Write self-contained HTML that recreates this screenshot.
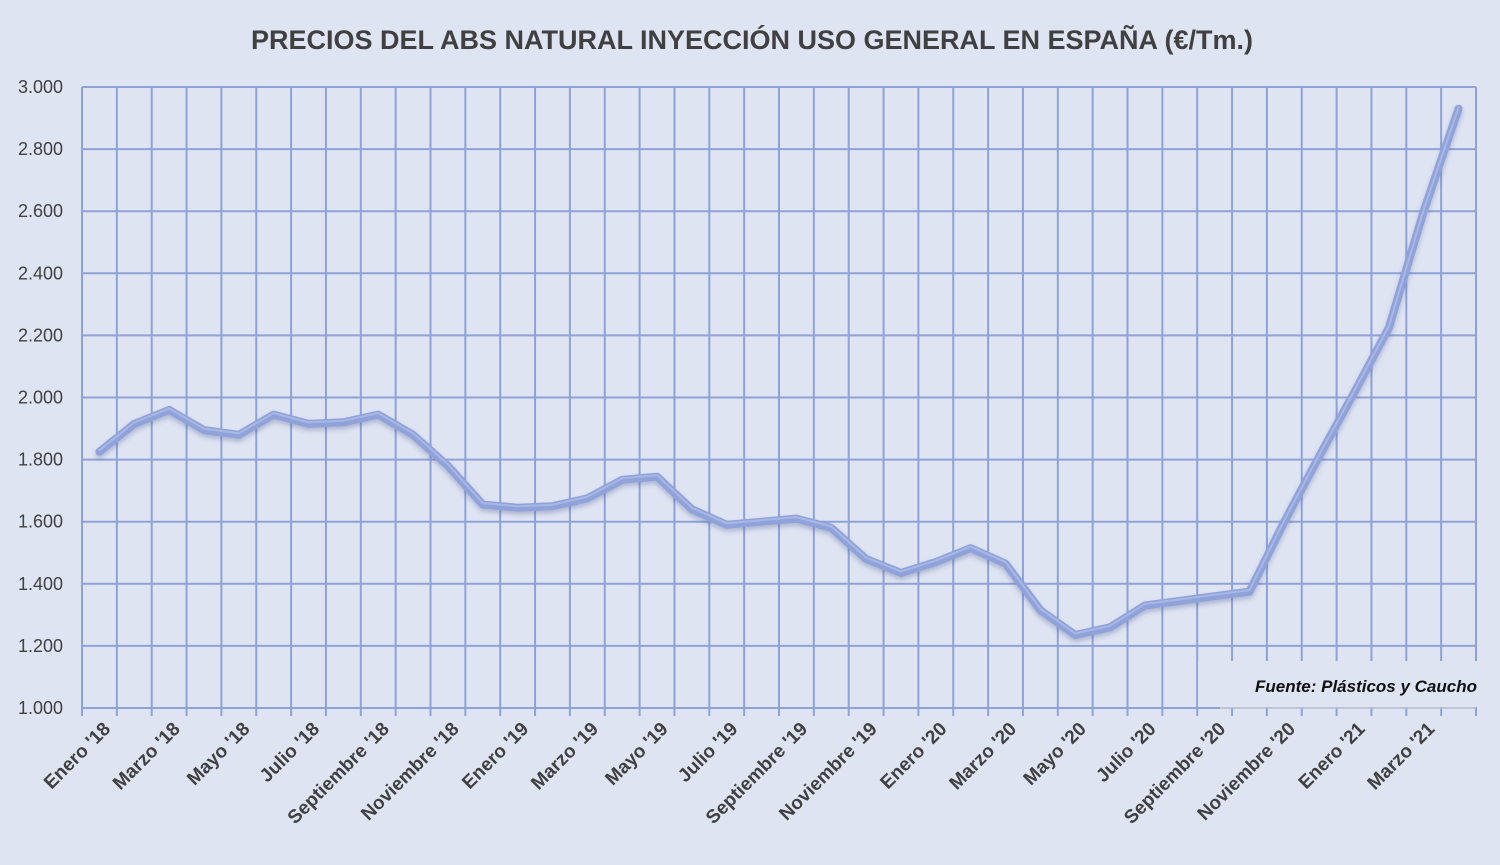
<!DOCTYPE html>
<html><head><meta charset="utf-8"><style>
html,body{margin:0;padding:0;background:#dfe4f3;}
svg{display:block;font-family:"Liberation Sans",sans-serif;}
</style></head><body>
<svg width="1500" height="865" viewBox="0 0 1500 865" xmlns="http://www.w3.org/2000/svg">
<defs>
<filter id="sh" x="-5%" y="-5%" width="110%" height="110%">
<feGaussianBlur in="SourceAlpha" stdDeviation="2.5"/>
<feOffset dx="0" dy="3" result="b"/>
<feFlood flood-color="#3a4a80" flood-opacity="0.3"/>
<feComposite in2="b" operator="in" result="s"/>
<feMerge><feMergeNode in="s"/><feMergeNode in="SourceGraphic"/></feMerge>
</filter>
</defs>
<rect width="1500" height="865" fill="#dfe4f3"/>
<text x="752" y="49" text-anchor="middle" font-size="27" font-weight="bold" fill="#404040">PRECIOS DEL ABS NATURAL INYECCIÓN  USO GENERAL EN ESPAÑA (€/Tm.)</text>
<g id="grid" stroke="#8fa2d8" stroke-width="2"></g>
<g id="yl" font-size="18" fill="#404040" text-anchor="end"></g>
<g id="xl" font-size="19" font-weight="bold" fill="#404040" text-anchor="end"></g>
<rect x="1198" y="661" width="290" height="46" fill="#dfe4f3"/>
<line x1="82" y1="708" x2="1476" y2="708" stroke="#b4bccd" stroke-width="1.5"/>
<line x1="82" y1="708" x2="1220" y2="708" stroke="#8fa2d8" stroke-width="2"/>
<text x="1477" y="692" text-anchor="end" font-size="17" font-weight="bold" font-style="italic" fill="#111">Fuente: Plásticos y Caucho</text>
<polyline id="ln" fill="none" stroke="#8fa2da" stroke-width="8" stroke-linejoin="round" stroke-linecap="round" filter="url(#sh)"/>
<polyline id="ln2" fill="none" stroke="#a8b7e4" stroke-width="2" stroke-linejoin="round" stroke-linecap="round"/>
</svg>
<script>
const ns="http://www.w3.org/2000/svg";
const X0=82,X1=1476,N=40,W=(X1-X0)/N;
const yv=v=>708-(v-1000)*0.3105;
const g=document.getElementById('grid');
function el(t,a,p){const e=document.createElementNS(ns,t);for(const k in a)e.setAttribute(k,a[k]);p.appendChild(e);return e;}
for(let v=1200;v<=3000;v+=200)el('line',{x1:X0,x2:X1,y1:yv(v),y2:yv(v)},g);
for(let i=0;i<=N;i++){const x=X0+i*W;el('line',{x1:x,x2:x,y1:87,y2:716},g);}
const yl=document.getElementById('yl');
for(let v=1000;v<=3000;v+=200){const t=el('text',{x:63,y:yv(v)+6},yl);t.textContent=(v/1000).toFixed(3);}
const labs=["Enero '18","Marzo '18","Mayo '18","Julio '18","Septiembre  '18","Noviembre '18","Enero '19","Marzo '19","Mayo '19","Julio '19","Septiembre '19","Noviembre '19","Enero '20","Marzo '20","Mayo '20","Julio '20","Septiembre '20","Noviembre '20","Enero '21","Marzo '21"];
const xl=document.getElementById('xl');
labs.forEach((s,k)=>{const x=X0+(2*k+0.5)*W+12,y=730;const t=el('text',{x:x,y:y,transform:`rotate(-45 ${x} ${y})`},xl);t.textContent=s;});
const d=[1825,1915,1960,1895,1880,1945,1915,1920,1945,1880,1780,1655,1645,1650,1675,1735,1745,1640,1590,1600,1610,1580,1480,1435,1470,1515,1465,1315,1235,1260,1330,1345,1360,1375,1600,1811,2015,2225,2600,2930];
const pts=d.map((v,i)=>(X0+(i+0.5)*W).toFixed(1)+','+yv(v).toFixed(1)).join(' ');
document.getElementById('ln').setAttribute('points',pts);
const pts2=d.map((v,i)=>(X0+(i+0.5)*W).toFixed(1)+','+(yv(v)-1.5).toFixed(1)).join(' ');
document.getElementById('ln2').setAttribute('points',pts2);
</script>
</body></html>
